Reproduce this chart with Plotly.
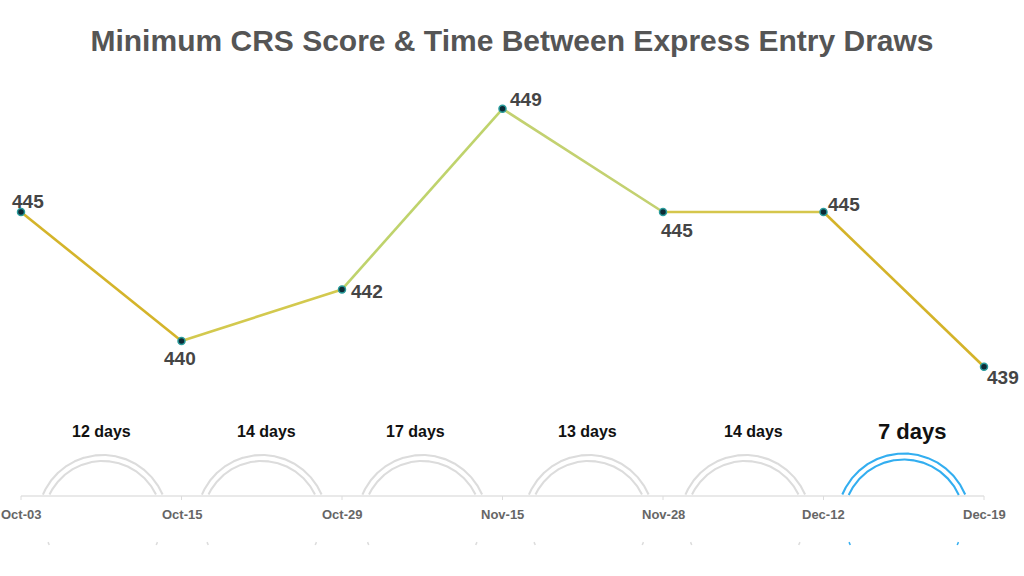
import numpy as np
import plotly.graph_objects as go

# ---------------- data ----------------
dates = ["Oct-03", "Oct-15", "Oct-29", "Nov-15", "Nov-28", "Dec-12", "Dec-19"]
crs_scores = [445, 440, 442, 449, 445, 445, 439]
gap_days = [12, 14, 17, 13, 14, 7]
title_text = "Minimum CRS Score & Time Between Express Entry Draws"

# ---------------- styles ----------------
W, H = 1024, 576
X0_PX, X1_PX = 21, 984                      # pixel centres of first / last draw
PX_PER_CAT = (X1_PX - X0_PX) / (len(dates) - 1)
Y_REF_VAL, Y_REF_PX, PX_PER_PT = 445, 212, 25.8

seg_colors = ["#d4b42a", "#d3c94e", "#bfd36c", "#c3d170", "#d5c64c", "#d4b329"]
label_dx = [7, -2, 25, 23, 14, 20, 19]
label_dy = [-11, 17, 2, -9, 18, -8, 11]
arc_dx = [1.5, 0, 0, 6, 2, 0]              # pixel nudges of the arcs
days_dx = [0.7, 5, -7, 5, 10, 8.5]         # pixel nudges of the "n days" labels
gray_arc = "#dcdcdc"
blue_arc = "#33aef0"
FONT = "Liberation Sans, Arial, sans-serif"

BASE_PX = 496
RING_CY = 520
RING_R = [65, 59]

x_idx = list(range(len(dates)))

fig = go.Figure()

# line segments (coloured individually)
for i in range(len(dates) - 1):
    fig.add_trace(go.Scatter(
        x=[x_idx[i], x_idx[i + 1]], y=[crs_scores[i], crs_scores[i + 1]],
        mode="lines", line=dict(color=seg_colors[i], width=2.6),
        hoverinfo="skip", showlegend=False))

# markers
fig.add_trace(go.Scatter(
    x=x_idx, y=crs_scores, mode="markers",
    marker=dict(size=7, color="#0d2a35", line=dict(color="#2a9c9c", width=1.5)),
    showlegend=False, hoverinfo="skip"))

# score labels
for i, v in enumerate(crs_scores):
    fig.add_annotation(x=x_idx[i], y=v, xref="x", yref="y", text=f"<b>{v}</b>",
                       showarrow=False, xshift=label_dx[i], yshift=-label_dy[i],
                       font=dict(family=FONT, size=19, color="#454545"))

# baseline of the timeline
fig.add_trace(go.Scatter(x=[x_idx[0], x_idx[-1]], y=[BASE_PX, BASE_PX], xaxis="x", yaxis="y2",
                         mode="lines", line=dict(color="#e2e2e2", width=1.5),
                         hoverinfo="skip", showlegend=False))
for i in x_idx:
    fig.add_trace(go.Scatter(x=[i, i], y=[BASE_PX, BASE_PX + 4], xaxis="x", yaxis="y2",
                             mode="lines", line=dict(color="#dcdcdc", width=1),
                             hoverinfo="skip", showlegend=False))
    fig.add_annotation(x=i, y=514, xref="x", yref="y2", text=f"<b>{dates[i]}</b>",
                       showarrow=False, font=dict(family=FONT, size=13, color="#666666"))


def ring_piece(mid, r, y_lo, y_hi):
    """points of circle (pixel space) whose y lies in [y_lo, y_hi]"""
    t = np.linspace(0, 2 * np.pi, 721)
    px = r * np.cos(t)
    py = RING_CY - r * np.sin(t)
    xs, ys = [], []
    for a, b in zip(px, py):
        if y_lo <= b <= y_hi:
            xs.append(mid + a / PX_PER_CAT)
            ys.append(b)
        else:
            xs.append(None)
            ys.append(None)
    return xs, ys


# arcs + day labels
for i, d in enumerate(gap_days):
    mid = (x_idx[i] + x_idx[i + 1]) / 2
    amid = mid + arc_dx[i] / PX_PER_CAT
    last = i == len(gap_days) - 1
    col = blue_arc if last else gray_arc
    for r in RING_R:
        xs, ys = ring_piece(amid, r + (1.5 if last else 0), 0, BASE_PX - 1)
        fig.add_trace(go.Scatter(x=xs, y=ys, xaxis="x", yaxis="y2", mode="lines",
                                 line=dict(color=col, width=2.1), connectgaps=False,
                                 hoverinfo="skip", showlegend=False))
    xs, ys = ring_piece(amid, RING_R[1], 542, 545)
    fig.add_trace(go.Scatter(x=xs, y=ys, xaxis="x", yaxis="y2", mode="lines",
                             line=dict(color=col, width=1.5), connectgaps=False,
                             hoverinfo="skip", showlegend=False))
    fig.add_annotation(x=mid, y=431, xref="x", yref="y2", text=f"<b>{d} days</b>",
                       xshift=days_dx[i], showarrow=False,
                       font=dict(family=FONT, size=22 if last else 16, color="#111111"))

# axes mapping
xr0 = -X0_PX / PX_PER_CAT
xr1 = xr0 + W / PX_PER_CAT
y_bot = Y_REF_VAL - (H - Y_REF_PX) / PX_PER_PT
y_top = Y_REF_VAL + Y_REF_PX / PX_PER_PT

fig.update_layout(
    width=W, height=H, margin=dict(l=0, r=0, t=0, b=0),
    paper_bgcolor="white", plot_bgcolor="white",
    xaxis=dict(range=[xr0, xr1], visible=False, domain=[0, 1]),
    yaxis=dict(range=[y_bot, y_top], visible=False, domain=[0, 1]),
    yaxis2=dict(range=[H, 0], visible=False, overlaying="y", domain=[0, 1]),
    title=dict(text=f"<b>{title_text}</b>", x=0.5, xanchor="center", y=1 - 40 / H,
               yanchor="middle", font=dict(family=FONT, size=30, color="#555555")),
    showlegend=False,
)

fig.write_html("out.html")
